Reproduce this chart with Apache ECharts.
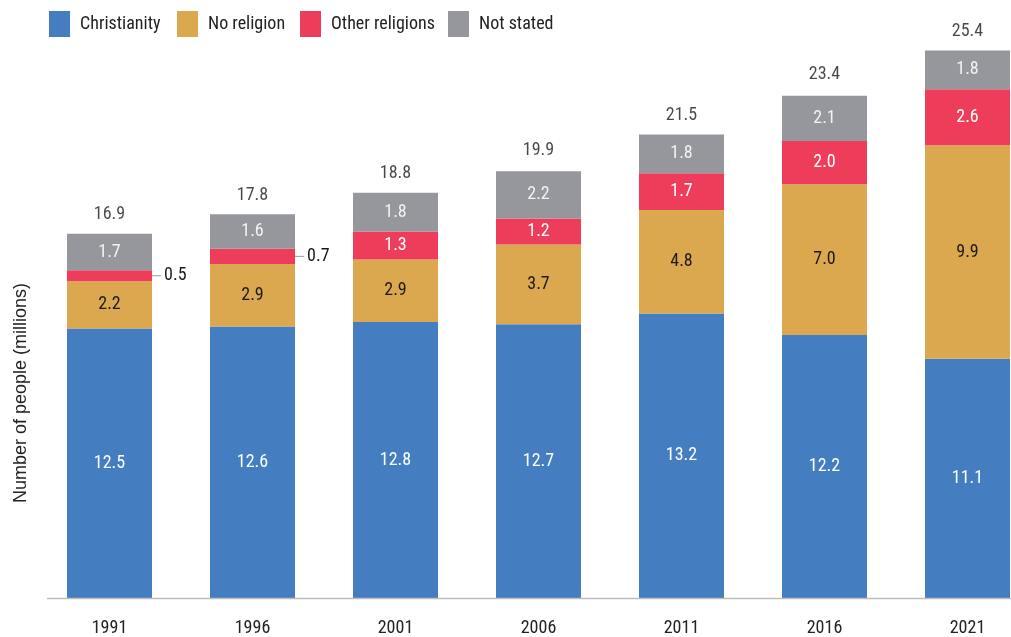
<!DOCTYPE html>
<html>
<head>
<meta charset="utf-8">
<script src="https://cdn.jsdelivr.net/npm/echarts@6/dist/echarts.min.js"></script>
<style>
  html, body { margin: 0; padding: 0; background: #ffffff; overflow: hidden; }
  #chart { width: 1011px; height: 637px; }
</style>
</head>
<body>
<div id="chart"></div>
<script>
// Census years and population by religious affiliation (millions)
const years = ['1991', '1996', '2001', '2006', '2011', '2016', '2021'];
const christianity = [12.5, 12.6, 12.8, 12.7, 13.2, 12.2, 11.1];
const noReligion = [2.2, 2.9, 2.9, 3.7, 4.8, 7.0, 9.9];
const otherReligions = [0.5, 0.7, 1.3, 1.2, 1.7, 2.0, 2.6];
const notStated = [1.7, 1.6, 1.8, 2.2, 1.8, 2.1, 1.8];
const totals = [16.9, 17.8, 18.8, 19.9, 21.5, 23.4, 25.4];

const FONT = '"Liberation Sans Narrow", "Roboto Condensed", Roboto, sans-serif';
const COLORS = {
  christianity: '#447EC0',
  noReligion: '#DCA84F',
  other: '#EE3D5A',
  notStated: '#95979D'
};

const chart = echarts.init(document.getElementById('chart'), null, { renderer: 'canvas' });

function insideLabel(color) {
  return {
    show: true,
    position: 'inside',
    color: color,
    fontFamily: FONT,
    fontSize: 18,
    formatter: p => p.value.toFixed(1)
  };
}

// Small segments get their value placed to the right after a short leader
const otherData = otherReligions.map(v => {
  if (v < 1) {
    return {
      value: v,
      label: {
        position: 'right',
        distance: 0,
        formatter: p => '{lead|}{val|' + p.value.toFixed(1) + '}',
        rich: {
          lead: { width: 9, height: 1, backgroundColor: '#9a9a9a', verticalAlign: 'middle' },
          val: { color: '#1a1a1a', fontFamily: FONT, fontSize: 18, padding: [0, 0, 0, 3], verticalAlign: 'middle' }
        }
      }
    };
  }
  return v;
});

function legendAt(name, left) {
  return {
    data: [name],
    left: left,
    top: 11,
    itemWidth: 21,
    itemHeight: 26,
    itemGap: 0,
    padding: 0,
    icon: 'rect',
    textStyle: { fontFamily: FONT, fontSize: 18, color: '#222', padding: [2, 0, 0, 5] },
    selectedMode: false
  };
}

const option = {
  animation: false,
  legend: [
    legendAt('Christianity', 49),
    legendAt('No religion', 177),
    legendAt('Other religions', 300),
    legendAt('Not stated', 448)
  ],
  // The plot band runs a little past the right edge so the last bar meets it
  grid: { left: 38, width: 1001, top: 16, bottom: 39, containLabel: false, outerBoundsMode: 'none' },
  xAxis: {
    type: 'category',
    data: years,
    axisLine: { show: false },
    axisTick: { show: false },
    axisLabel: { fontFamily: FONT, fontSize: 18, color: '#222', margin: 21 }
  },
  yAxis: {
    type: 'value',
    min: 0,
    max: 27,
    show: false
  },
  graphic: [
    {
      type: 'line',
      shape: { x1: 47, y1: 598.5, x2: 1011, y2: 598.5 },
      style: { stroke: '#bdbdbd', lineWidth: 1.5 },
      z: 10
    },
    {
      type: 'text',
      x: 21,
      y: 393,
      rotation: Math.PI / 2,
      style: {
        text: 'Number of people (millions)',
        fontFamily: '"Liberation Sans", Arial, sans-serif',
        fontSize: 18,
        fill: '#222',
        textAlign: 'center',
        textVerticalAlign: 'middle'
      }
    }
  ],
  series: [
    {
      name: 'Christianity',
      type: 'bar',
      stack: 'total',
      barWidth: 85,
      itemStyle: { color: COLORS.christianity },
      label: insideLabel('#ffffff'),
      data: christianity
    },
    {
      name: 'No religion',
      type: 'bar',
      stack: 'total',
      barWidth: 85,
      itemStyle: { color: COLORS.noReligion },
      label: insideLabel('#1a1a1a'),
      data: noReligion
    },
    {
      name: 'Other religions',
      type: 'bar',
      stack: 'total',
      barWidth: 85,
      itemStyle: { color: COLORS.other },
      label: insideLabel('#ffffff'),
      data: otherData
    },
    {
      name: 'Not stated',
      type: 'bar',
      stack: 'total',
      barWidth: 85,
      itemStyle: { color: COLORS.notStated },
      label: insideLabel('#f2f2f2'),
      data: notStated
    },
    {
      name: 'Total',
      type: 'scatter',
      symbolSize: 0,
      silent: true,
      label: {
        show: true,
        position: 'top',
        distance: 10,
        color: '#1a1a1a',
        fontFamily: FONT,
        fontSize: 18,
        formatter: p => p.value.toFixed(1)
      },
      data: totals
    }
  ]
};

chart.setOption(option);
</script>
</body>
</html>
